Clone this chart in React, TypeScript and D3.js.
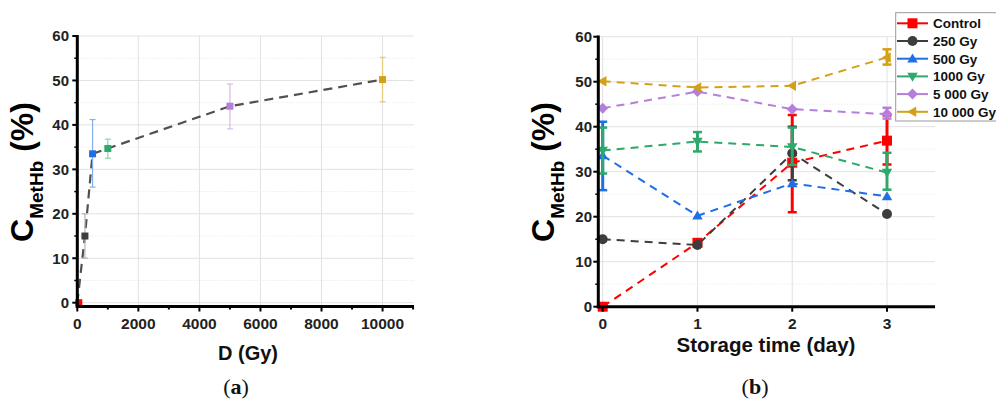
import React from "react";
import * as d3 from "d3";

// ---------- data: panel (a) ----------
const doseGy = [0, 250, 500, 1000, 5000, 10000];
const doseMean = [0, 15, 33.5, 34.7, 44.2, 50.2];
const doseLow = [0, 10, 26, 32.5, 39.1, 45.2];
const doseHigh = [0, 20, 41.2, 36.8, 49.2, 55.2];
const doseXTicks = [0, 2000, 4000, 6000, 8000, 10000];
const yTicks = [0, 10, 20, 30, 40, 50, 60];

// ---------- data: panel (b) ----------
const days = [0, 1, 2, 3];
const seriesNames = ["Control", "250 Gy", "500 Gy", "1000 Gy", "5 000 Gy", "10 000 Gy"];
const controlVals = [0, 14.2, 32.0, 36.9];
const controlLow = [0, 14.2, 21.0, 31.6];
const controlHigh = [0, 14.2, 42.6, 42.5];
const gy250Vals = [15.0, 13.7, 34.1, 20.6];
const gy250Low = [15.0, 13.7, 28.1, 20.6];
const gy250High = [15.0, 13.7, 40.0, 20.6];
const gy500Vals = [33.6, 20.2, 27.4, 24.5];
const gy500Low = [25.9, 20.2, 27.4, 24.5];
const gy500High = [41.1, 20.2, 27.4, 24.5];
const gy1000Vals = [34.7, 36.7, 35.5, 29.8];
const gy1000Low = [29.6, 34.5, 31.5, 26.0];
const gy1000High = [39.8, 38.8, 39.8, 34.2];
const gy5000Vals = [44.1, 47.8, 43.9, 42.8];
const gy5000Low = [44.1, 47.8, 43.9, 41.8];
const gy5000High = [44.1, 47.8, 43.9, 44.2];
const gy10000Vals = [50.1, 48.7, 49.1, 55.4];
const gy10000Low = [50.1, 48.7, 49.1, 53.8];
const gy10000High = [50.1, 48.7, 49.1, 57.2];
const dayTicks = [0, 1, 2, 3];

// ---------- styles ----------
const colors = ["#FF0000", "#3D3D3D", "#1F6FE5", "#2EA86B", "#B57EDC", "#D4A017"];
const lightColors = ["#FF8080", "#B5B5B5", "#84AEF0", "#8FD1AE", "#D7B8F0", "#E6C978"];
const shapes = ["square", "circle", "triUp", "triDown", "diamond", "triLeft"];

const FONT = "Liberation Sans, Arial, sans-serif";

function markerPath(shape: string, s: number) {
  const h = s / 2;
  switch (shape) {
    case "square":
      return `M${-h},${-h}H${h}V${h}H${-h}Z`;
    case "circle":
      return d3.symbol(d3.symbolCircle, Math.PI * h * h)() as string;
    case "triUp":
      return `M0,${-h * 1.05}L${h * 1.05},${h * 0.75}L${-h * 1.05},${h * 0.75}Z`;
    case "triDown":
      return `M0,${h * 1.05}L${h * 1.05},${-h * 0.75}L${-h * 1.05},${-h * 0.75}Z`;
    case "diamond":
      return `M0,${-h * 1.1}L${h * 1.1},0L0,${h * 1.1}L${-h * 1.1},0Z`;
    case "triLeft":
      return `M${-h * 1.05},0L${h * 0.75},${-h * 1.05}L${h * 0.75},${h * 1.05}Z`;
  }
  return "";
}

function YLabel({ x, cy }: { x: number; cy: number }) {
  return (
    <text
      transform={`translate(${x},${cy}) rotate(-90)`}
      textAnchor="middle"
      fontFamily={FONT}
      fontWeight="bold"
      fontSize={32}
      fill="#000"
    >
      C
      <tspan fontSize={19} dy={10}>MetHb</tspan>
      <tspan dy={-10}> (%)</tspan>
    </text>
  );
}

export default function App() {
  // ---- panel (a) scales ----
  const ax = d3.scaleLinear().domain([0, 11030]).range([77.3, 414]);
  const ay = d3.scaleLinear().domain([0, 60]).range([302.7, 36]);
  const aBottom = 306.5;

  // ---- panel (b) scales ----
  const bx = d3.scaleLinear().domain([0, 3]).range([602.7, 887]);
  const by = d3.scaleLinear().domain([0, 60]).range([306.7, 36.7]);
  const bLeft = 598.3;
  const bRight = 935;
  const bBottom = 306.7;

  const gridMajor = [10, 20, 30, 40, 50, 60];
  const gridMinor = [5, 15, 25, 35, 45, 55];

  const aLine = d3
    .line<number>()
    .x((_, i) => ax(doseGy[i]))
    .y((v) => ay(v));

  const bLine = d3
    .line<number>()
    .x((_, i) => bx(days[i]))
    .y((v) => by(v));

  const bSeries = [
    { vals: controlVals, low: controlLow, high: controlHigh },
    { vals: gy250Vals, low: gy250Low, high: gy250High },
    { vals: gy500Vals, low: gy500Low, high: gy500High },
    { vals: gy1000Vals, low: gy1000Low, high: gy1000High },
    { vals: gy5000Vals, low: gy5000Low, high: gy5000High },
    { vals: gy10000Vals, low: gy10000Low, high: gy10000High },
  ];

  const legendX = 895.7;
  const legendTop = 12.7;
  const legendRow0 = 23.3;
  const legendStep = 17.7;

  return (
    <svg
      width={996}
      height={401}
      style={{ position: "absolute", left: 0, top: 0, background: "#fff" }}
    >
      <rect x={0} y={0} width={996} height={401} fill="#fff" />

      {/* ================= Panel (a) ================= */}
      <g>
        {gridMinor.map((v) => (
          <line key={"amn" + v} x1={ax(0)} x2={414} y1={ay(v)} y2={ay(v)} stroke="#E4E4E4" strokeWidth={1} strokeDasharray="1,2" />
        ))}
        {gridMajor.map((v) => (
          <line key={"amj" + v} x1={ax(0)} x2={414} y1={ay(v)} y2={ay(v)} stroke="#E2E2E2" strokeWidth={1} />
        ))}
        <line x1={ax(0)} x2={414} y1={ay(0)} y2={ay(0)} stroke="#E2E2E2" strokeWidth={1} />
        {doseXTicks.slice(1).map((v) => (
          <line key={"avg" + v} x1={ax(v)} x2={ax(v)} y1={ay(60)} y2={aBottom} stroke="#E2E2E2" strokeWidth={1} />
        ))}

        <path d={aLine(doseMean) as string} fill="none" stroke="#505050" strokeWidth={2.2} strokeDasharray="9,6" />

        {doseGy.map((d, i) =>
          doseHigh[i] > doseLow[i] ? (
            <g key={"aeb" + i} stroke={lightColors[i]} strokeWidth={1.2}>
              <line x1={ax(d)} x2={ax(d)} y1={ay(doseLow[i])} y2={ay(doseHigh[i])} />
              <line x1={ax(d) - 3} x2={ax(d) + 3} y1={ay(doseLow[i])} y2={ay(doseLow[i])} />
              <line x1={ax(d) - 3} x2={ax(d) + 3} y1={ay(doseHigh[i])} y2={ay(doseHigh[i])} />
            </g>
          ) : null
        )}
        {doseGy.map((d, i) => (
          <path key={"am" + i} d={markerPath("square", 7)} transform={`translate(${ax(d) + (i === 0 ? 1.5 : 0)},${ay(doseMean[i])})`} fill={colors[i]} />
        ))}

        {/* axes */}
        <line x1={ax(0)} x2={ax(0)} y1={35} y2={aBottom + 1.5} stroke="#000" strokeWidth={3} />
        <line x1={ax(0) - 1.5} x2={414} y1={aBottom} y2={aBottom} stroke="#000" strokeWidth={3} />
        {yTicks.map((v) => (
          <line key={"ayt" + v} x1={ax(0) - 5} x2={ax(0)} y1={ay(v)} y2={ay(v)} stroke="#000" strokeWidth={2} />
        ))}
        {gridMinor.map((v) => (
          <line key={"aytm" + v} x1={ax(0) - 3} x2={ax(0)} y1={ay(v)} y2={ay(v)} stroke="#000" strokeWidth={1.5} />
        ))}
        {d3.range(0, 11001, 1000).map((v) => (
          <line key={"axt" + v} x1={ax(v)} x2={ax(v)} y1={aBottom} y2={aBottom + (v % 2000 === 0 ? 5 : 3)} stroke="#000" strokeWidth={2} />
        ))}
        {yTicks.map((v) => (
          <text key={"ayl" + v} x={69} y={ay(v)} dy="0.36em" textAnchor="end" fontFamily={FONT} fontWeight="bold" fontSize={15} fill="#222">
            {v}
          </text>
        ))}
        {doseXTicks.map((v) => (
          <text key={"axl" + v} x={ax(v)} y={323} dy="0.36em" textAnchor="middle" fontFamily={FONT} fontWeight="bold" fontSize={15.5} fill="#222">
            {v}
          </text>
        ))}
        <text x={248} y={360} textAnchor="middle" fontFamily={FONT} fontWeight="bold" fontSize={20} fill="#111">
          D (Gy)
        </text>
        <YLabel x={33} cy={172} />
        <text x={236} y={394} textAnchor="middle" fontFamily="Liberation Serif, serif" fontSize={22} fill="#111">
          (<tspan fontWeight="bold">a</tspan>)
        </text>
      </g>

      {/* ================= Panel (b) ================= */}
      <g>
        {gridMinor.map((v) => (
          <line key={"bmn" + v} x1={bLeft} x2={bRight} y1={by(v)} y2={by(v)} stroke="#E4E4E4" strokeWidth={1} strokeDasharray="1,2" />
        ))}
        {gridMajor.map((v) => (
          <line key={"bmj" + v} x1={bLeft} x2={bRight} y1={by(v)} y2={by(v)} stroke="#E2E2E2" strokeWidth={1} />
        ))}
        {dayTicks.map((v) => (
          <line key={"bvg" + v} x1={bx(v)} x2={bx(v)} y1={by(60)} y2={bBottom} stroke="#E2E2E2" strokeWidth={1} />
        ))}

        {bSeries.map((s, si) => (
          <g key={"bs" + si}>
            <path d={bLine(s.vals) as string} fill="none" stroke={colors[si]} strokeWidth={2} strokeDasharray="8,6" />
            {days.map((d, i) =>
              s.high[i] - s.low[i] > 0.5 ? (
                <g key={"beb" + i} stroke={colors[si]} strokeWidth={3}>
                  <line x1={bx(d)} x2={bx(d)} y1={by(s.low[i])} y2={by(s.high[i])} />
                  <line x1={bx(d) - 4.5} x2={bx(d) + 4.5} y1={by(s.low[i])} y2={by(s.low[i])} strokeWidth={2.5} />
                  <line x1={bx(d) - 4.5} x2={bx(d) + 4.5} y1={by(s.high[i])} y2={by(s.high[i])} strokeWidth={2.5} />
                </g>
              ) : null
            )}
            {days.map((d, i) => (
              <path key={"bm" + i} d={markerPath(shapes[si], 10)} transform={`translate(${bx(d)},${by(s.vals[i])})`} fill={colors[si]} />
            ))}
          </g>
        ))}

        {/* axes */}
        <line x1={bLeft} x2={bLeft} y1={35.5} y2={bBottom + 1.5} stroke="#000" strokeWidth={3} />
        <line x1={bLeft - 1.5} x2={bRight} y1={bBottom} y2={bBottom} stroke="#000" strokeWidth={3} />
        {yTicks.map((v) => (
          <line key={"byt" + v} x1={bLeft - 5} x2={bLeft} y1={by(v)} y2={by(v)} stroke="#000" strokeWidth={2} />
        ))}
        {gridMinor.map((v) => (
          <line key={"bytm" + v} x1={bLeft - 3} x2={bLeft} y1={by(v)} y2={by(v)} stroke="#000" strokeWidth={1.5} />
        ))}
        {dayTicks.map((v) => (
          <line key={"bxt" + v} x1={bx(v)} x2={bx(v)} y1={bBottom} y2={bBottom + 5} stroke="#000" strokeWidth={2} />
        ))}
        {yTicks.map((v) => (
          <text key={"byl" + v} x={592} y={by(v)} dy="0.36em" textAnchor="end" fontFamily={FONT} fontWeight="bold" fontSize={15} fill="#222">
            {v}
          </text>
        ))}
        {dayTicks.map((v) => (
          <text key={"bxl" + v} x={bx(v)} y={323} dy="0.36em" textAnchor="middle" fontFamily={FONT} fontWeight="bold" fontSize={15.5} fill="#222">
            {v}
          </text>
        ))}
        <text x={766} y={352} textAnchor="middle" fontFamily={FONT} fontWeight="bold" fontSize={20.5} fill="#111">
          Storage time (day)
        </text>
        <YLabel x={554} cy={172} />
        <text x={755} y={394} textAnchor="middle" fontFamily="Liberation Serif, serif" fontSize={22} fill="#111">
          (<tspan fontWeight="bold">b</tspan>)
        </text>

        {/* legend */}
        <rect x={legendX} y={legendTop} width={120} height={121 - legendTop} fill="#fff" stroke="#9A9A9A" strokeWidth={1} />
        {seriesNames.map((name, i) => {
          const yy = legendRow0 + i * legendStep;
          return (
            <g key={"lg" + i}>
              <line x1={897} x2={928} y1={yy} y2={yy} stroke={colors[i]} strokeWidth={2} />
              <path d={markerPath(shapes[i], 10)} transform={`translate(912.5,${yy})`} fill={colors[i]} />
              <text x={933} y={yy} dy="0.36em" fontFamily={FONT} fontWeight="bold" fontSize={13.5} fill="#111">
                {name}
              </text>
            </g>
          );
        })}
      </g>
    </svg>
  );
}
